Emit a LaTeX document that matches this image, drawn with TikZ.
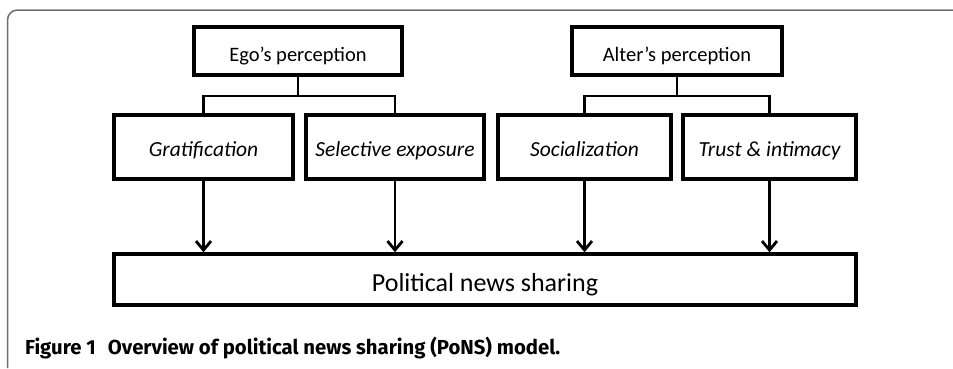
\documentclass[tikz,border=0pt]{standalone}
\usepackage{fontspec}
\setmainfont{Carlito}
\newfontfamily\capfont{Fira Sans}
\usetikzlibrary{arrows.meta}
\definecolor{framegray}{RGB}{110,110,110}
\begin{document}
\begin{tikzpicture}[x=1pt,y=-1pt,
  box/.style={draw=black,line width=3.5pt,inner sep=0pt,text height=22pt,text depth=1pt,font=\fontsize{20.5}{24}\selectfont},
  ibox/.style={box,text height=20pt,text depth=2pt,font=\fontsize{21.5}{25}\selectfont\itshape},
  link/.style={draw=black,line width=2.2pt},
  arr/.style={draw=black,line width=2.8pt,-{Straight Barb[length=9pt,width=15pt,line width=2.8pt]}}]
\useasboundingbox (0,0) rectangle (953,368);
% frame
\draw[framegray,line width=1.5pt,rounded corners=10pt] (7.5,368) -- (7.5,10) -- (953,10);
% nodes
\node[box,minimum width=208,minimum height=48] (ego) at (298,51) {Ego’s perception};
\node[box,minimum width=210,minimum height=48] (alter) at (677,51) {Alter’s perception};
\node[ibox,minimum width=179,minimum height=64] (grat) at (203.5,147) {Gratification};
\node[ibox,minimum width=178,minimum height=64] (sel) at (395,147) {Selective exposure};
\node[ibox,minimum width=173,minimum height=64] (soc) at (584.5,147) {Socialization};
\node[ibox,minimum width=173,minimum height=64] (trust) at (769.5,147) {Trust \& intimacy};
\node[box,minimum width=742,minimum height=51,font=\fontsize{26}{30}\selectfont,text height=26pt,text depth=2pt] (pons) at (485,279.5) {Political news sharing};
% tree links
\coordinate (egoj) at (ego.south |- 0,96);
\coordinate (alterj) at (alter.south |- 0,96);
\draw[link] (ego.south) -- (egoj);
\draw[link] (grat.north) |- (egoj) -| (sel.north);
\draw[link] (alter.south) -- (alterj);
\draw[link] (soc.north) |- (alterj) -| (trust.north);
% arrows
\draw[arr] (grat.south) -- (grat.south |- pons.north);
\draw[arr] (sel.south) -- (sel.south |- pons.north);
\draw[arr] (soc.south) -- (soc.south |- pons.north);
\draw[arr] (trust.south) -- (trust.south |- pons.north);
% caption
\node[anchor=base west,inner sep=0pt,font=\capfont\bfseries\fontsize{20.3}{24}\selectfont] (cap) at (25,354) {Figure 1\hspace{0.6em}Overview of political news sharing (PoNS) model.};
\end{tikzpicture}
\end{document}
